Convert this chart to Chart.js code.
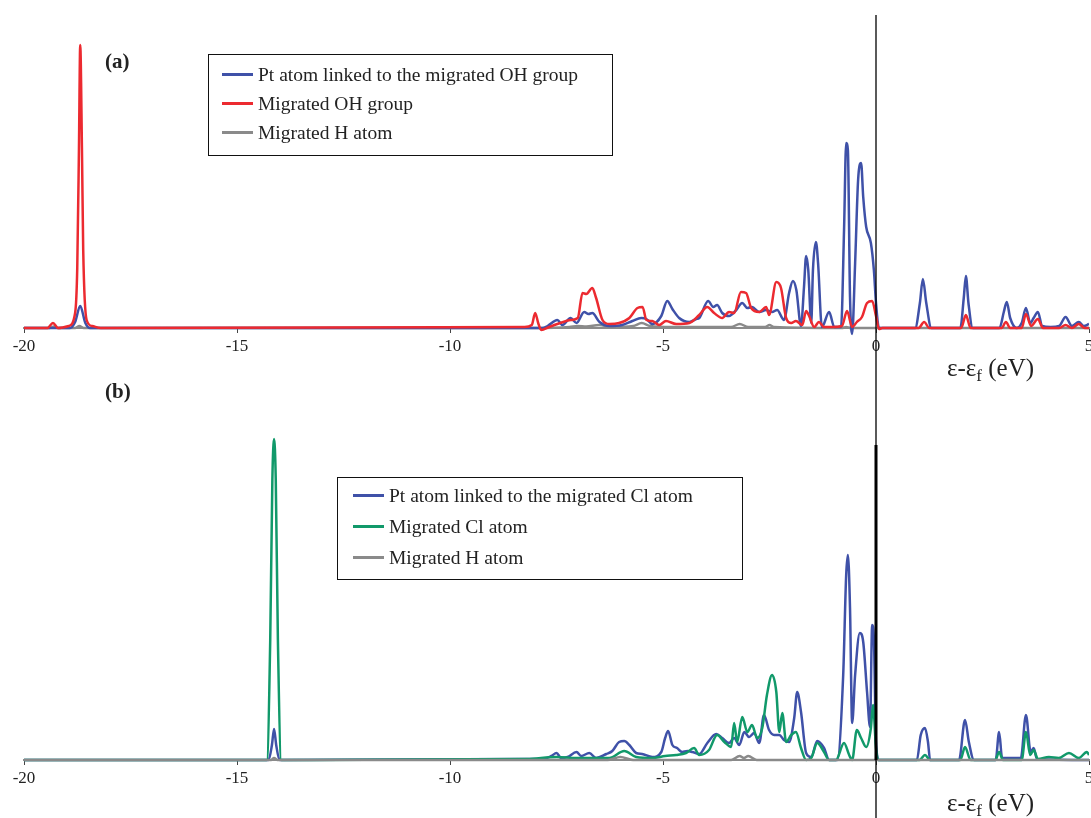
<!DOCTYPE html>
<html lang="en">
<head>
  <meta charset="UTF-8">
  <title>PDOS of migrated OH and Cl groups</title>
  <script src="https://cdn.jsdelivr.net/npm/chart.js"></script>
  <style>
    body {
      margin: 0;
      width: 1091px;
      height: 818px;
      overflow: hidden;
      position: relative;
      background: #fff;
      font-family: "Liberation Serif", "DejaVu Serif", serif;
      color: #222;
    }
    .panel { position: absolute; left: 0; }
    .tag { position: absolute; font-weight: bold; font-size: 21px; }
    .axtitle { position: absolute; font-size: 25px; white-space: nowrap; line-height: 1; }
    .axtitle sub { font-size: 17px; vertical-align: -5px; }
    .legend {
      position: absolute;
      border: 1.5px solid #111;
      box-sizing: border-box;
      font-size: 19.5px;
    }
    .legend .row { display: flex; align-items: center; white-space: nowrap; }
    .legend .sw { display: inline-block; width: 31px; height: 3px; margin-right: 5px; }
  </style>
</head>
<body>
  <div class="panel" style="top:0"><canvas id="chartA" width="1100" height="400"></canvas></div>
  <div class="panel" style="top:400px"><canvas id="chartB" width="1100" height="418"></canvas></div>

  <div class="tag" style="left:105px;top:49px">(a)</div>
  <div class="tag" style="left:105px;top:379px">(b)</div>
  <div class="axtitle" style="left:947px;top:355px">&epsilon;-&epsilon;<sub>f</sub> (eV)</div>
  <div class="axtitle" style="left:947px;top:790px">&epsilon;-&epsilon;<sub>f</sub> (eV)</div>

  <div id="legendA" class="legend" style="left:208px;top:54px;width:405px;height:102px;padding:5px 0 0 13px"></div>
  <div id="legendB" class="legend" style="left:337px;top:477px;width:406px;height:103px;padding:2px 0 0 15px"></div>

  <script>
    // x ticks
    const xTicks = [-20, -15, -10, -5, 0, 5];

    // (a) Pt atom linked to the migrated OH group
    const aPtE = [-20, -18.92, -18.80, -18.68, -18.56, -18.45, -8.2, -7.83, -7.71, -7.48, -7.36, -7.17, -7.03, -6.85, -6.75, -6.66, -6.49, -6.26, -5.96, -5.72, -5.51, -5.39, -5.25, -5.04, -4.90, -4.78, -4.62, -4.38, -4.22, -4.15, -3.94, -3.82, -3.73, -3.61, -3.45, -3.28, -3.14, -3.02, -2.91, -2.74, -2.58, -2.44, -2.32, -2.16, -2.04, -1.95, -1.87, -1.76, -1.69, -1.64, -1.59, -1.52, -1.48, -1.41, -1.36, -1.27, -1.10, -0.98, -0.82, -0.75, -0.70, -0.66, -0.61, -0.56, -0.49, -0.42, -0.35, -0.30, -0.23, -0.12, -0.05, 0, 0.07, 0.92, 1.03, 1.10, 1.18, 1.30, 1.98, 2.06, 2.11, 2.17, 2.27, 2.9, 3.0, 3.07, 3.15, 3.3, 3.42, 3.52, 3.62, 3.70, 3.80, 3.90, 4.1, 4.30, 4.45, 4.6, 4.76, 4.88, 5];
    const aPtDos = [0, 0, 0.6, 2.2, 0.5, 0, 0, 0, 0.2, 0.8, 0.3, 1.0, 0.5, 1.6, 1.4, 1.5, 0.6, 0.2, 0.3, 0.7, 1.0, 0.9, 0.4, 1.2, 2.7, 1.9, 1.0, 0.6, 0.9, 1.0, 2.7, 2.1, 2.3, 1.5, 1.2, 1.8, 2.5, 2.0, 2.1, 1.6, 1.8, 1.6, 1.8, 0.8, 3.5, 4.7, 3.8, 0.2, 4.1, 7.2, 5.8, 0.5, 5.8, 8.6, 6.5, 0.1, 1.6, 0.1, 0.1, 9.8, 18.5, 17.8, 3.1, -0.6, 6.5, 14.8, 16.5, 13.1, 10.1, 8.5, 5.8, 2.5, 0, 0, 2.5, 4.9, 2.5, 0, 0, 3.0, 5.2, 2.5, 0, 0, 1.6, 2.6, 1.0, 0, 0.5, 2.0, 0.5, 1.0, 1.6, 0.2, 0.1, 0.2, 1.1, 0.2, 0.6, 0.2, 0.4];

    // (a) Migrated OH group
    const aOhE = [-20, -19.45, -19.32, -19.2, -18.95, -18.80, -18.75, -18.71, -18.68, -18.64, -18.61, -18.53, -18.40, -18.2, -8.25, -8.08, -8.00, -7.93, -7.86, -7.67, -7.48, -7.16, -7.00, -6.89, -6.80, -6.66, -6.57, -6.42, -6.26, -6.03, -5.79, -5.60, -5.48, -5.39, -5.25, -5.09, -4.93, -4.69, -4.38, -4.15, -3.96, -3.80, -3.61, -3.45, -3.33, -3.17, -3.05, -2.93, -2.74, -2.58, -2.51, -2.34, -2.23, -2.11, -1.99, -1.88, -1.73, -1.64, -1.57, -1.45, -1.34, -1.22, -1.03, -0.80, -0.68, -0.56, -0.45, -0.33, -0.21, -0.09, 0, 0.07, 0.15, 1.0, 1.13, 1.25, 2.0, 2.11, 2.22, 2.95, 3.05, 3.15, 3.42, 3.52, 3.64, 3.80, 3.92, 4.3, 4.45, 4.6, 4.76, 4.9, 5];
    const aOhDos = [0, 0, 0.5, 0, 0.2, 1.5, 6.0, 18, 28.3, 18, 7.8, 0.8, 0.2, 0, 0.1, 0.3, 1.5, 0.5, -0.2, 0.1, 0.4, 0.8, 1.0, 3.5, 3.4, 4.0, 3.0, 0.8, 0.4, 0.5, 1.0, 2.0, 2.1, 0.8, 0.7, 0.3, 0.7, 0.4, 0.5, 1.3, 2.1, 1.5, 1.0, 1.6, 1.5, 3.6, 3.5, 2.0, 1.6, 2.1, 1.3, 4.6, 4.0, 1.0, 0.5, 0.7, 0.3, 1.7, 1.2, 0.1, 0.6, 0.1, 0.1, 0.2, 1.7, 0.1, 0.6, 1.1, 2.5, 2.7, 1.2, -0.1, 0, 0, 0.6, 0, 0, 1.3, 0, 0, 0.6, 0, 0, 1.4, 0.2, 0.9, 0, 0, 0.3, 0, 0.4, 0, 0];

    // (a) Migrated H atom
    const aHE = [-20, -19.4, -19.3, -19.2, -18.8, -18.7, -18.6, -8, -7.2, -7.0, -6.8, -6.5, -6.2, -5.7, -5.5, -5.3, -4.8, -3.4, -3.2, -3.0, -2.6, -2.5, -2.4, -0.8, -0.7, -0.6, 5];
    const aHDos = [0, 0, 0.15, 0, 0, 0.2, 0, 0, 0.1, 0.2, 0.15, 0.3, 0.1, 0.2, 0.5, 0.2, 0.1, 0.1, 0.4, 0.1, 0.1, 0.3, 0.1, 0, 0.1, 0, 0];

    // (b) Pt atom linked to the migrated Cl atom
    const bPtE = [-20, -14.26, -14.18, -14.13, -14.08, -14.0, -8.21, -7.83, -7.62, -7.50, -7.39, -7.24, -7.03, -6.92, -6.73, -6.57, -6.33, -6.19, -6.03, -5.91, -5.79, -5.63, -5.49, -5.25, -5.04, -4.95, -4.88, -4.78, -4.67, -4.55, -4.43, -4.31, -4.15, -3.96, -3.75, -3.61, -3.45, -3.33, -3.21, -3.09, -2.98, -2.86, -2.74, -2.63, -2.51, -2.39, -2.27, -2.16, -2.04, -1.92, -1.85, -1.76, -1.64, -1.52, -1.38, -1.22, -1.10, -0.91, -0.77, -0.70, -0.66, -0.61, -0.56, -0.49, -0.38, -0.30, -0.21, -0.14, -0.09, -0.05, 0, 0.07, 0.96, 1.05, 1.15, 1.22, 1.27, 1.95, 2.09, 2.18, 2.30, 2.81, 2.89, 2.96, 3.40, 3.52, 3.63, 3.70, 3.78, 5];
    const bPtDos = [0, 0, 1.5, 3.1, 1.5, 0, 0.1, 0.1, 0.4, 0.7, 0.2, 0.3, 0.8, 0.4, 0.7, 0.2, 0.6, 0.9, 1.8, 1.9, 1.5, 0.7, 0.6, 0.3, 0.8, 2.2, 2.9, 1.5, 1.2, 0.8, 0.9, 0.8, 0.6, 1.7, 2.6, 2.2, 1.7, 2.2, 1.5, 2.8, 2.3, 2.7, 1.7, 4.5, 3.0, 2.5, 2.5, 2.0, 1.8, 4.2, 6.8, 4.8, 0.7, 0.3, 1.9, 1.2, 0, 0, 8.5, 18.5, 20.5, 15.2, 3.7, 8.5, 12.7, 11.8, 6.8, 3.3, 13.5, 12.2, 1.8, 0, 0, 2.5, 3.2, 1.8, 0, 0, 4.0, 1.8, 0, 0, 2.8, 0.2, 0.2, 4.5, 0.8, 1.2, 0.1, 0];

    // (b) Migrated Cl atom
    const bClE = [-20, -14.30, -14.22, -14.17, -14.13, -14.09, -14.04, -13.96, -8.2, -7.50, -7.03, -6.73, -6.26, -5.91, -5.63, -5.25, -4.95, -4.69, -4.46, -4.27, -4.15, -3.92, -3.73, -3.56, -3.40, -3.33, -3.26, -3.14, -3.02, -2.91, -2.79, -2.67, -2.56, -2.44, -2.34, -2.27, -2.20, -2.11, -1.99, -1.88, -1.76, -1.64, -1.52, -1.38, -1.22, -1.10, -0.94, -0.75, -0.63, -0.56, -0.45, -0.35, -0.23, -0.12, -0.07, 0, 0.05, 1.02, 1.15, 1.27, 1.98, 2.09, 2.22, 2.80, 2.89, 2.98, 3.42, 3.52, 3.62, 3.70, 3.80, 4.06, 4.29, 4.53, 4.76, 4.95, 5];
    const bClDos = [0, 0, 12, 28, 32.1, 28, 12, 0, 0.1, 0.3, 0.2, 0.2, 0.2, 0.9, 0.3, 0.2, 0.4, 0.5, 0.7, 1.2, 0.5, 1.0, 2.5, 1.8, 1.3, 3.7, 1.8, 4.3, 2.8, 3.5, 2.2, 3.2, 6.5, 8.5, 6.8, 2.8, 4.7, 1.8, 2.5, 2.8, 1.2, 0, 0.2, 1.7, 0.8, 0, 0, 1.7, 0.5, 0, 3.0, 2.2, 1.3, 3.2, 5.5, 1.2, 0, 0, 0.5, 0, 0, 1.3, 0, 0, 0.8, 0, 0, 2.8, 0.5, 1.0, 0.1, 0.3, 0.2, 0.7, 0.2, 0.8, 0.5];

    // (b) Migrated H atom
    const bHE = [-20, -14.2, -14.13, -14.05, -6.3, -6.0, -5.7, -3.4, -3.2, -3.1, -3.0, -2.8, 5];
    const bHDos = [0, 0, 0.2, 0, 0, 0.3, 0, 0, 0.4, 0.2, 0.4, 0, 0];

    const BLUE = '#3f51a8', RED = '#ec2a30', GREEN = '#11996a', GRAY = '#8a8a8a';

    function pts(xs, ys) {
      return xs.map((x, i) => ({ x: x, y: ys[i] }));
    }

    // order: lower number is drawn on top
    function line(label, xs, ys, color, order) {
      return {
        label: label,
        data: pts(xs, ys),
        borderColor: color,
        backgroundColor: color,
        borderWidth: 2.5,
        pointRadius: 0,
        cubicInterpolationMode: 'monotone',
        clip: { left: 0, top: 5, right: 0, bottom: 10 },
        order: order
      };
    }

    // vertical line at e - ef = 0
    const zeroLine = {
      id: 'zeroLine',
      afterDatasetsDraw(chart, args, opts) {
        const ctx = chart.ctx;
        const x = chart.scales.x.getPixelForValue(0);
        ctx.save();
        ctx.strokeStyle = '#000';
        ctx.lineWidth = 1.3;
        ctx.beginPath();
        ctx.moveTo(x, opts.fromTop ? chart.chartArea.top : 0);
        ctx.lineTo(x, chart.height);
        ctx.stroke();
        if (opts.thickFrom !== undefined) {
          ctx.lineWidth = 3;
          ctx.beginPath();
          ctx.moveTo(x, chart.scales.y.getPixelForValue(opts.thickFrom));
          ctx.lineTo(x, chart.chartArea.bottom);
          ctx.stroke();
        }
        ctx.restore();
      }
    };

    function makeChart(id, datasets, yMax, padding, lineOpts) {
      return new Chart(document.getElementById(id), {
        type: 'line',
        data: { datasets: datasets },
        plugins: [zeroLine],
        options: {
          responsive: false,
          animation: false,
          layout: { padding: padding },
          plugins: {
            legend: { display: false },
            tooltip: { enabled: false },
            zeroLine: lineOpts
          },
          scales: {
            x: {
              type: 'linear',
              min: -20,
              max: 5,
              afterBuildTicks: axis => { axis.ticks = xTicks.map(v => ({ value: v })); },
              afterFit: axis => { axis.height = 32; },
              ticks: {
                color: '#222',
                padding: 3,
                maxRotation: 0,
                font: { family: 'Liberation Serif', size: 17 }
              },
              grid: { drawOnChartArea: false, tickLength: 5, color: '#444', lineWidth: 1 },
              border: { display: true, color: '#8a8a8a', width: 2 }
            },
            y: {
              display: false,
              min: 0,
              max: yMax
            }
          }
        }
      });
    }

    const chartA = makeChart('chartA', [
      line('Pt atom linked to the migrated OH group', aPtE, aPtDos, BLUE, 1),
      line('Migrated OH group', aOhE, aOhDos, RED, 0),
      line('Migrated H atom', aHE, aHDos, GRAY, 2)
    ], 31.3, { top: 15, left: 24, right: 11, bottom: 40 }, { fromTop: true });

    const chartB = makeChart('chartB', [
      line('Pt atom linked to the migrated Cl atom', bPtE, bPtDos, BLUE, 2),
      line('Migrated Cl atom', bClE, bClDos, GREEN, 1),
      line('Migrated H atom', bHE, bHDos, GRAY, 0)
    ], 33, { top: 30, left: 24, right: 11, bottom: 26 }, { fromTop: false, thickFrom: 31.5 });

    // legend boxes built from the chart datasets
    function buildLegend(chart, elId, rowH) {
      const box = document.getElementById(elId);
      chart.data.datasets.forEach(ds => {
        const row = document.createElement('div');
        row.className = 'row';
        row.style.height = rowH + 'px';
        const sw = document.createElement('span');
        sw.className = 'sw';
        sw.style.background = ds.borderColor;
        row.appendChild(sw);
        row.appendChild(document.createTextNode(ds.label));
        box.appendChild(row);
      });
    }
    buildLegend(chartA, 'legendA', 29);
    buildLegend(chartB, 'legendB', 31);
  </script>
</body>
</html>
